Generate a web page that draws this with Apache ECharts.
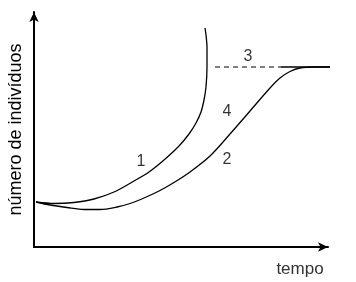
<!DOCTYPE html>
<html>
<head>
<meta charset="utf-8">
<script src="https://cdn.jsdelivr.net/npm/echarts@6/dist/echarts.min.js"></script>
<style>
html,body{margin:0;padding:0;background:#fff;}
#chart{width:356px;height:282px;}
</style>
</head>
<body>
<div id="chart"></div>
<script>
// Curve 1: exponential growth (time, individuals)
const curve1 = [[2,45],[20,43.5],[40,44.5],[60,48],[80,55],[100,66],[115,75],[130,87],[145,101],[155,113],[162,124],[167,135],[170,147],[172,160],[173,180],[173,200],[172,212],[171,219]];
// Curve 2: logistic growth
const curve2 = [[2,45],[16,42],[33,39.5],[50,37.5],[66,37.5],[83,40],[96,43.5],[110,49],[125,56],[140,64.5],[156,75],[176,91],[196,113],[216,136],[236,159],[246,169],[256,175.5],[266,179],[281,180],[318,180]];
// Carrying capacity line (3)
const capacityDashed = [[181,180],[247,180]];
const capacitySolid = [[247,180],[318,180]];
// Curve labels
const labelNames = ['1','2','3','4'];
const labelPoints = [[107,85],[193,87],[214,190],[193,135]];
const xMax = 294, yMax = 235;
const xTitle = 'tempo';
const yTitle = 'número de indivíduos';

const chart = echarts.init(document.getElementById('chart'), null, {renderer:'canvas'});
const font = 'Liberation Sans, Arial, sans-serif';
const lineStyle = {color:'#000', width:1.3};
chart.setOption({
  animation:false,
  backgroundColor:'#fff',
  grid:{left:34, right:28, top:12, bottom:35, containLabel:false, outerBoundsMode:'none'},
  xAxis:{
    type:'value', min:0, max:xMax,
    name:xTitle, nameLocation:'end', nameGap:-28,
    nameTextStyle:{fontFamily:font, fontSize:17, color:'#333', align:'center', verticalAlign:'top', padding:[14,0,0,0]},
    axisLine:{lineStyle:{color:'#000', width:2}, symbol:['none','arrow'], symbolSize:[7,10]},
    axisTick:{show:false}, axisLabel:{show:false}, splitLine:{show:false}
  },
  yAxis:{
    type:'value', min:0, max:yMax,
    name:yTitle, nameLocation:'middle', nameGap:9, nameRotate:90,
    nameTextStyle:{fontFamily:font, fontSize:18, color:'#000'},
    axisLine:{lineStyle:{color:'#000', width:2}, symbol:['none','arrow'], symbolSize:[7,10]},
    axisTick:{show:false}, axisLabel:{show:false}, splitLine:{show:false}
  },
  series:[
    {type:'line', data:curve1, smooth:0.3, showSymbol:false, lineStyle:lineStyle, clip:false},
    {type:'line', data:curve2, smooth:0.3, showSymbol:false, lineStyle:lineStyle, clip:false},
    {type:'line', data:capacityDashed, showSymbol:false, lineStyle:{color:'#000', width:1.2, type:[5,4]}, clip:false},
    {type:'line', data:capacitySolid, showSymbol:false, lineStyle:lineStyle, clip:false},
    {type:'scatter', symbolSize:0, clip:false,
     data:labelPoints.map((p,i)=>({value:p, name:labelNames[i]})),
     label:{show:true, position:'inside', formatter:'{b}', fontFamily:font, fontSize:16, color:'#000'}}
  ]
});
</script>
</body>
</html>
